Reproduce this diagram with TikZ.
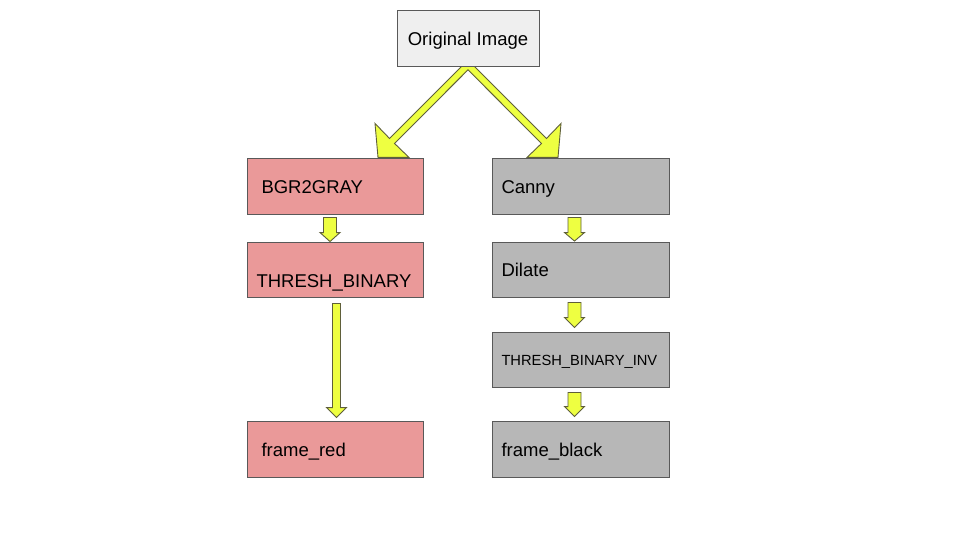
\documentclass[tikz,border=0pt]{standalone}
\usepackage{fontspec}
\setmainfont{Liberation Sans}
\usetikzlibrary{calc,backgrounds}
\definecolor{bordc}{HTML}{595959}
\definecolor{origc}{HTML}{EFEFEF}
\definecolor{redc}{HTML}{EA9999}
\definecolor{grayc}{HTML}{B7B7B7}
\definecolor{arrowc}{HTML}{EEFF41}
\definecolor{arrowline}{HTML}{5F5F3A}
\tikzset{
  basebox/.style={draw=bordc, line width=0.9pt, minimum height=56pt, inner ysep=0pt,
    font=\fontsize{18.5pt}{22pt}\selectfont, text height=14.4pt, text depth=0pt},
  origbox/.style={basebox, fill=origc, minimum width=142pt},
  lbox/.style={basebox, fill=redc, align=left, inner xsep=14.5pt, text width=147pt},
  rbox/.style={basebox, fill=grayc, align=left, inner xsep=9.5pt, text width=158pt},
  barrow/.style={draw=arrowline, fill=arrowc, line width=0.9pt, line join=miter},
}
% #1 from, #2 to, #3 dx, #4 top gap, #5 head length, #6 tip gap, #7 shaft half, #8 head half
\newcommand\blockdown[8]{%
  \draw[barrow] ($(#1.south)+(#3-#7,#4)$) -- ($(#2.north)+(#3-#7,-#6-#5)$)
    -- ($(#2.north)+(#3-#8,-#6-#5)$) -- ($(#2.north)+(#3,-#6)$)
    -- ($(#2.north)+(#3+#8,-#6-#5)$) -- ($(#2.north)+(#3+#7,-#6-#5)$)
    -- ($(#1.south)+(#3+#7,#4)$) -- cycle;}
\begin{document}
\begin{tikzpicture}[x=1pt,y=-1pt]
\useasboundingbox (0,0) rectangle (960,540);
\node[origbox] (orig) at (468,38) {Original Image};
\node[lbox] (bgr) at (335,186) {BGR2GRAY};
\node[lbox, minimum height=55pt, inner xsep=9.5pt, text width=157pt] (thr) at (335,269.5) {\raisebox{-11pt}{THRESH\_BINARY}};
\node[lbox] (fred) at (335,449) {frame\_red};
\node[rbox] (canny) at (580.5,186) {Canny};
\node[rbox, minimum height=55pt] (dilate) at (580.5,269.5) {Dilate};
\node[rbox, minimum height=55pt, font=\fontsize{14.7pt}{17pt}\selectfont, text height=11.2pt] (inv) at (580.5,359.5) {THRESH\_BINARY\_INV};
\node[rbox] (fblack) at (580.5,449) {frame\_black};
\begin{pgfonlayer}{background}
  \fill[white] (0,0) rectangle (960,540);
  \draw[barrow] ($(orig.south)+(0,-6.4)$) -- ($(orig.south)+(-78.5,72)$)
    -- ($(orig.south)+(-93,57)$) -- ($(orig.south)+(-90,91)$)
    -- ($(orig.south)+(-59,91)$) -- ($(orig.south)+(-73.5,77)$)
    -- ($(orig.south)+(0,3.4)$) -- ($(orig.south)+(73.5,77)$)
    -- ($(orig.south)+(59,91)$) -- ($(orig.south)+(90,91)$)
    -- ($(orig.south)+(93,57)$) -- ($(orig.south)+(78.5,72)$) -- cycle;
  \blockdown{bgr}{thr}{-5}{3}{9}{0}{6.5}{10}
  \blockdown{thr}{fred}{1.5}{6}{10}{3}{4}{10}
  \blockdown{canny}{dilate}{-6}{3}{8.5}{0.5}{6.5}{10}
  \blockdown{dilate}{inv}{-6}{5}{10}{4}{6.5}{10}
  \blockdown{inv}{fblack}{-6}{5}{10}{4}{6.5}{10}
\end{pgfonlayer}
\end{tikzpicture}
\end{document}
